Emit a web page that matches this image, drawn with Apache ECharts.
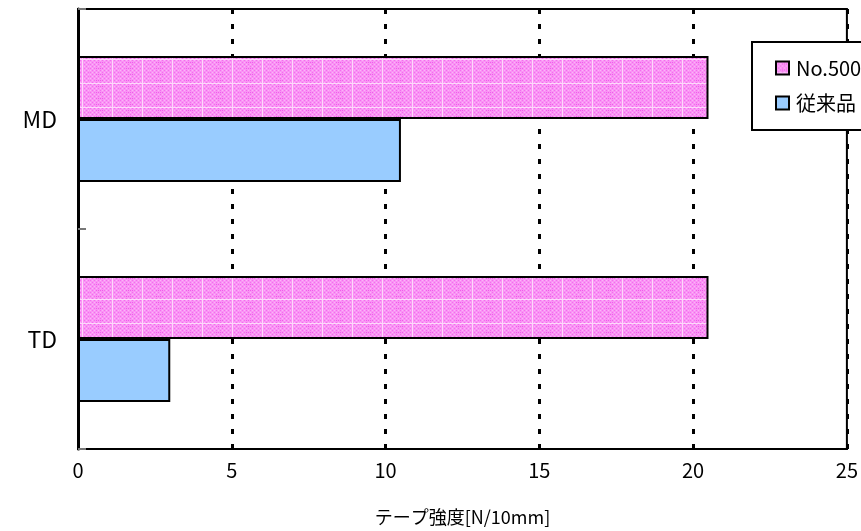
<!DOCTYPE html>
<html><head><meta charset="utf-8">
<script src="https://cdn.jsdelivr.net/npm/echarts@6/dist/echarts.min.js"></script>
<style>html,body{margin:0;padding:0;background:#fff}#c{width:861px;height:531px}</style>
</head><body><div id="c"></div>
<script>
var categories = ['MD', 'TD'];
var seriesNames = ['No.500', '従来品'];
var newValues = [20.5, 20.5];
var oldValues = [10.5, 3.0];
var xTicks = [0, 5, 10, 15, 20, 25];
var xName = 'テープ強度[N/10mm]';

function makePattern() {
  var c = document.createElement('canvas');
  c.width = 30; c.height = 24;
  var g = c.getContext('2d');
  g.fillStyle = '#f993f4'; g.fillRect(0, 0, 30, 24);
  for (var y = 0; y < 24; y += 2) {
    for (var x = 0; x < 30; x += 2) {
      g.fillStyle = ((x + y) % 4 === 0) ? '#f46cef' : '#fbb5f8';
      g.fillRect(x, y, 1, 1);
    }
  }
  g.fillStyle = '#f05ceb';
  for (var r = 2; r < 24; r += 6) { for (var x2 = 6; x2 < 14; x2 += 2) g.fillRect(x2, r, 1, 1); }
  g.fillStyle = '#fdd8fb';
  g.fillRect(0, 11, 30, 1);
  g.fillRect(22, 0, 1, 24);
  return c;
}
var pat = { image: makePattern(), repeat: 'repeat' };
var ff = '"Noto Sans CJK JP", sans-serif';

var chart = echarts.init(document.getElementById('c'));
chart.setOption({
  animation: false,
  textStyle: { fontFamily: ff },
  grid: { left: 78, right: 13, top: 9, bottom: 82, show: true, borderColor: '#000', borderWidth: 2, backgroundColor: 'transparent' },
  legend: {
    left: 752, top: 42, orient: 'vertical',
    data: seriesNames,
    backgroundColor: '#fff', borderColor: '#000', borderWidth: 2,
    padding: [16, 30, 17, 23], itemGap: 15, itemWidth: 13, itemHeight: 13,
    icon: 'rect',
    itemStyle: { borderColor: '#000', borderWidth: 2 },
    textStyle: { fontSize: 20, color: '#000', fontFamily: ff, padding: [0, 0, 0, 2] }
  },
  xAxis: {
    type: 'value', min: 0, max: 25, interval: 5,
    axisLine: { show: true, lineStyle: { color: '#000', width: 2 } },
    axisTick: { show: false },
    axisLabel: { fontSize: 20, color: '#000', margin: 11, formatter: function (v) { return xTicks.indexOf(v) >= 0 ? String(v) : ''; } },
    splitLine: { show: true, lineStyle: { color: '#000', width: 3, type: [5, 10] } },
    name: xName, nameLocation: 'middle', nameGap: 59,
    nameTextStyle: { fontSize: 18, color: '#000' }
  },
  yAxis: {
    type: 'category', data: categories, inverse: true,
    axisLine: { show: true, lineStyle: { color: '#000', width: 3 } },
    axisTick: { show: true, inside: true, length: 8, lineStyle: { color: '#777', width: 2 } },
    axisLabel: { fontSize: 23, color: '#000', margin: 21 }
  },
  series: [
    { name: seriesNames[0], type: 'bar', data: newValues, barWidth: 63, barGap: '0%',
      itemStyle: { color: pat, borderColor: '#000', borderWidth: 2 } },
    { name: seriesNames[1], type: 'bar', data: oldValues, barWidth: 63, barGap: '0%',
      itemStyle: { color: '#99ccff', borderColor: '#000', borderWidth: 2 } }
  ]
});
</script></body></html>
